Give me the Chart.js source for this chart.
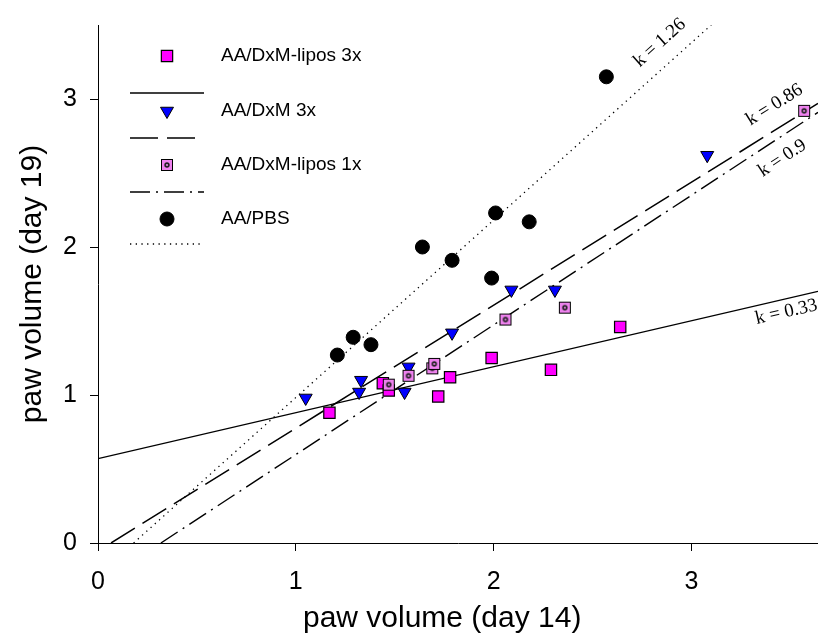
<!DOCTYPE html>
<html>
<head>
<meta charset="utf-8">
<script src="https://cdn.jsdelivr.net/npm/chart.js@4.4.1/dist/chart.umd.min.js"></script>
<style>
  html, body { margin: 0; padding: 0; background: #fff; overflow: hidden; width: 818px; height: 635px; }
  #wrap { width: 818px; height: 635px; position: absolute; left: 0; top: 0; }
  canvas { display: block; }
</style>
</head>
<body>
<div id="wrap"><canvas id="c" width="818" height="635"></canvas></div>
<script>
// ---- data ----
const seriesNames = ['AA/DxM-lipos 3x', 'AA/DxM 3x', 'AA/DxM-lipos 1x', 'AA/PBS'];

const lipos3xX = [1.17, 1.44, 1.47, 1.72, 1.78, 1.99, 2.29, 2.64];
const lipos3xY = [0.88, 1.08, 1.03, 0.99, 1.12, 1.25, 1.17, 1.46];

const dxm3xX = [1.05, 1.33, 1.32, 1.57, 1.55, 1.79, 2.09, 2.31, 3.08];
const dxm3xY = [0.98, 1.10, 1.02, 1.19, 1.02, 1.42, 1.71, 1.71, 2.62];

const lipos1xX = [1.47, 1.57, 1.69, 1.70, 2.06, 2.36, 3.57];
const lipos1xY = [1.07, 1.13, 1.18, 1.21, 1.51, 1.59, 2.92];

const pbsX = [1.21, 1.29, 1.38, 1.64, 1.79, 2.01, 1.99, 2.18, 2.57];
const pbsY = [1.27, 1.39, 1.34, 2.00, 1.91, 2.23, 1.79, 2.17, 3.15];

// regression lines (end points)
const fitLipos3xX = [0, 3.64];     const fitLipos3xY = [0.57, 1.70];
const fitDxm3xX   = [0.066, 3.64]; const fitDxm3xY   = [0, 2.97];
const fitLipos1xX = [0.318, 3.64]; const fitLipos1xY = [0, 2.91];
const fitPbsX     = [0.18, 3.10];  const fitPbsY     = [0, 3.5];

const slopeLabels = ['k = 0.33', 'k = 0.86', 'k = 0.9', 'k = 1.26'];
const slopeLabelX = [3.48, 3.42, 3.46, 2.84];
const slopeLabelY = [1.56, 2.96, 2.60, 3.38];

const xTicks = [0, 1, 2, 3];
const yTicks = [0, 1, 2, 3];
const xTitle = 'paw volume (day 14)';
const yTitle = 'paw volume (day 19)';
const xTitleCenter = 1.74;   // x value under the centre of the x-axis title

// ---- helpers ----
const pts = (xs, ys) => xs.map((x, i) => ({ x: x, y: ys[i] }));

function makePinkSymbol() {
  const c = document.createElement('canvas');
  c.width = 14; c.height = 14;
  const g = c.getContext('2d');
  g.fillStyle = '#EE82EE'; g.fillRect(1.5, 1.5, 11, 11);
  g.strokeStyle = '#000'; g.lineWidth = 1; g.strokeRect(1.5, 1.5, 11, 11);
  g.beginPath(); g.arc(7, 7, 2.7, 0, Math.PI * 2); g.fillStyle = '#222'; g.fill();
  g.beginPath(); g.arc(7, 7, 1.1, 0, Math.PI * 2); g.fillStyle = '#EE82EE'; g.fill();
  return c;
}
const pinkSym = makePinkSymbol();

const symStyles = [
  { pointStyle: 'rect', radius: 8, rotation: 0, backgroundColor: '#FF00FF', borderColor: '#000', borderWidth: 1.2 },
  { pointStyle: 'triangle', radius: 7.5, rotation: 180, backgroundColor: '#0000FF', borderColor: '#000', borderWidth: 1 },
  { pointStyle: pinkSym, radius: 7, rotation: 0, backgroundColor: '#EE82EE', borderColor: '#000', borderWidth: 1 },
  { pointStyle: 'circle', radius: 7, rotation: 0, backgroundColor: '#000', borderColor: '#000', borderWidth: 1 }
];
const lineStyles = [
  { borderDash: [], borderWidth: 1.4 },
  { borderDash: [28, 9], borderWidth: 1.5 },
  { borderDash: [20, 6, 2, 6], borderWidth: 1.4 },
  { borderDash: [1.3, 4.4], borderWidth: 1.3 }
];

const scatterSets = [pts(lipos3xX, lipos3xY), pts(dxm3xX, dxm3xY), pts(lipos1xX, lipos1xY), pts(pbsX, pbsY)];
const fitSets = [pts(fitLipos3xX, fitLipos3xY), pts(fitDxm3xX, fitDxm3xY), pts(fitLipos1xX, fitLipos1xY), pts(fitPbsX, fitPbsY)];

const datasets = [];
fitSets.forEach((d, i) => {
  datasets.push({
    type: 'line', label: 'fit ' + seriesNames[i], data: d, showLine: true,
    borderColor: '#000', borderWidth: lineStyles[i].borderWidth, borderDash: lineStyles[i].borderDash,
    pointRadius: 0, pointHoverRadius: 0, fill: false, tension: 0, order: 10
  });
});
scatterSets.forEach((d, i) => {
  const s = symStyles[i];
  datasets.push({
    type: 'scatter', label: seriesNames[i], data: d, showLine: false,
    pointStyle: s.pointStyle, pointRadius: s.radius, pointRotation: s.rotation,
    backgroundColor: s.backgroundColor, borderColor: s.borderColor, borderWidth: s.borderWidth,
    order: 4 - i
  });
});

// custom legend: symbol row + line-sample row per series
const legendPlugin = {
  id: 'customLegend',
  afterDraw(chart) {
    const ctx = chart.ctx;
    const symX = 167, lineX0 = 130, lineX1 = 204, textX = 221;
    const symY = [56, 111, 165, 219];
    const lineY = [93, 138, 192, 244];
    seriesNames.forEach((name, i) => {
      const s = symStyles[i];
      ctx.save();
      ctx.fillStyle = s.backgroundColor; ctx.strokeStyle = s.borderColor; ctx.lineWidth = s.borderWidth;
      Chart.helpers.drawPoint(ctx, { pointStyle: s.pointStyle, rotation: s.rotation, radius: s.radius, borderWidth: s.borderWidth }, symX, symY[i]);
      ctx.restore();
      ctx.save();
      ctx.fillStyle = '#000';
      ctx.font = '19px "Liberation Sans", Arial, sans-serif';
      ctx.textBaseline = 'middle'; ctx.textAlign = 'left';
      ctx.fillText(name, textX, symY[i]);
      const l = lineStyles[i];
      ctx.strokeStyle = '#000'; ctx.lineWidth = l.borderWidth; ctx.setLineDash(l.borderDash);
      ctx.beginPath(); ctx.moveTo(lineX0, lineY[i]); ctx.lineTo(lineX1, lineY[i]); ctx.stroke();
      ctx.restore();
    });
  }
};

// slope labels rotated along each fit line, and the x-axis title
const textPlugin = {
  id: 'slopeLabels',
  afterDraw(chart) {
    const ctx = chart.ctx;
    const xs = chart.scales.x, ys = chart.scales.y;
    ctx.save();
    ctx.font = '19px "Liberation Serif", "Times New Roman", serif';
    ctx.fillStyle = '#000'; ctx.textAlign = 'center'; ctx.textBaseline = 'middle';
    fitSets.forEach((d, i) => {
      const px0 = xs.getPixelForValue(d[0].x), py0 = ys.getPixelForValue(d[0].y);
      const px1 = xs.getPixelForValue(d[1].x), py1 = ys.getPixelForValue(d[1].y);
      const ang = Math.atan2(py1 - py0, px1 - px0);
      ctx.save();
      ctx.translate(xs.getPixelForValue(slopeLabelX[i]), ys.getPixelForValue(slopeLabelY[i]));
      ctx.rotate(ang);
      ctx.fillText(slopeLabels[i], 0, 0);
      ctx.restore();
    });
    ctx.font = '30px "Liberation Sans", Arial, sans-serif';
    ctx.fillText(xTitle, xs.getPixelForValue(xTitleCenter), xs.bottom - 16);
    ctx.restore();
  }
};

const tickFont = { family: '"Liberation Sans", Arial, sans-serif', size: 25 };
const titleFont = { family: '"Liberation Sans", Arial, sans-serif', size: 30 };

new Chart(document.getElementById('c'), {
  type: 'scatter',
  data: { datasets: datasets },
  options: {
    responsive: false,
    animation: false,
    layout: { autoPadding: false, padding: { top: 25, right: 0, left: 0, bottom: 0 } },
    plugins: { legend: { display: false }, tooltip: { enabled: false } },
    scales: {
      x: {
        type: 'linear', min: 0, max: 3.64,
        afterBuildTicks: (sc) => { sc.ticks = xTicks.map(v => ({ value: v })); },
        afterFit: (sc) => { sc.height = 92; sc.paddingLeft = 0; sc.paddingRight = 0; },
        ticks: { color: '#000', font: tickFont, padding: 16, maxRotation: 0, callback: (v) => String(v) },
        grid: { display: true, drawOnChartArea: false, drawTicks: true, tickLength: 8, color: '#000', lineWidth: 1 },
        border: { display: true, color: '#000', width: 1 },
        title: { display: false }
      },
      y: {
        type: 'linear', min: 0, max: 3.5,
        afterBuildTicks: (sc) => { sc.ticks = yTicks.map(v => ({ value: v })); },
        afterFit: (sc) => { sc.width = 98; sc.paddingTop = 0; sc.paddingBottom = 0; },
        ticks: { color: '#000', font: tickFont, padding: 13, callback: (v) => String(v) },
        grid: { display: true, drawOnChartArea: false, drawTicks: true, tickLength: 8, color: '#000', lineWidth: 1 },
        border: { display: true, color: '#000', width: 1 },
        title: { display: true, text: yTitle, color: '#000', font: titleFont, padding: { top: 15, bottom: 0 } }
      }
    }
  },
  plugins: [legendPlugin, textPlugin]
});
</script>
</body>
</html>
